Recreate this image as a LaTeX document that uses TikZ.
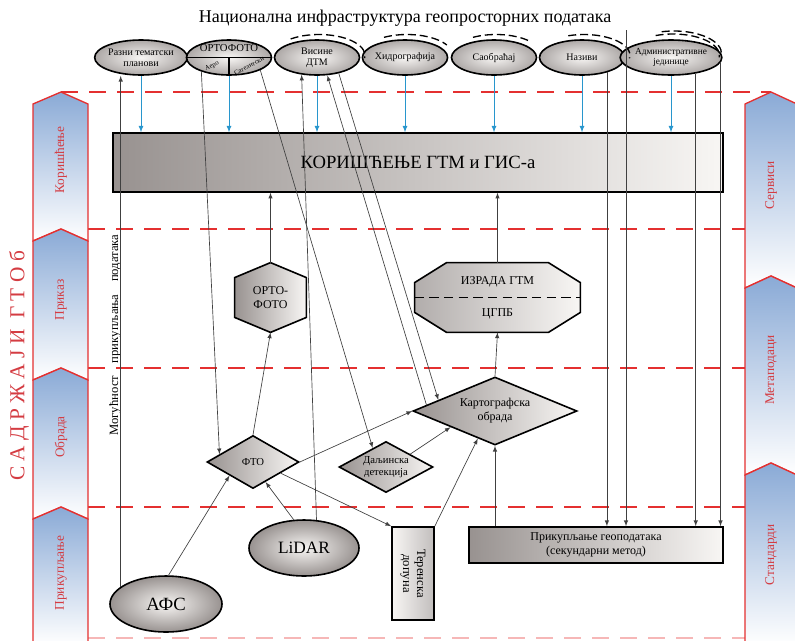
\documentclass[tikz,border=0pt]{standalone}
\usepackage{fontspec}
\setmainfont{Liberation Serif}
\usepackage{tikz}
\usetikzlibrary{arrows,shapes.geometric,calc}
\usepackage{tkz-euclide}
\definecolor{redline}{RGB}{228,48,48}
\definecolor{redtext}{RGB}{212,60,66}
\definecolor{bluearr}{RGB}{40,150,205}
\definecolor{chevblue}{RGB}{138,170,214}
\definecolor{shadedark}{RGB}{152,146,144}
\definecolor{shadelight}{RGB}{248,246,244}

\begin{document}
\begin{tikzpicture}[x=0.75pt,y=-0.75pt,semithick,
  every node/.style={inner sep=0pt,font=\fontsize{9}{10.5}\selectfont},
  arr/.style={-latex,black!75,line width=0.5pt},
  blarr/.style={-latex,bluearr,line width=0.7pt},
  reddash/.style={redline,line width=1.5pt,dash pattern=on 13pt off 8pt},
  band/.style={draw=redline,line width=1pt,top color=chevblue,bottom color=white},
  bandtxt/.style={rotate=90,text=redtext,font=\fontsize{10}{12}\selectfont},
  topell/.style={ellipse,draw,line width=1.2pt,minimum width=63.75pt,minimum height=26.25pt,
    inner color=shadelight,outer color=shadedark!80!white,align=center,font=\fontsize{7.5}{8.5}\selectfont},
  ell/.style={ellipse,draw,line width=1.2pt,inner color=shadelight,outer color=shadedark},
  dia/.style={diamond,draw,line width=1.2pt,left color=shadedark,right color=shadelight,align=center},
  rim/.style={line width=1pt,dash pattern=on 6pt off 3pt},
  poly/.style={draw,line width=1.2pt,left color=shadedark,right color=shadelight}]
\useasboundingbox (0,0) rectangle (795,640);
\tkzDefPoints{141/57.5/E1,229/57.5/E2,317/57.5/E3,405/57.5/E4,494/57.5/E5,582/57.5/E6,671/57.5/E7,626/30/N}
\draw[reddash] (61,92) -- (771,92);
\foreach \y in {229,368,507} \draw[reddash] (88,\y) -- (745,\y);
\draw[reddash,redline!35] (88,638) -- (745,638);
\foreach \t/\b in {92/229,229/368,368/507}
  \draw[band] (33,\t+12) -- (61,\t) -- (88,\t+12) -- (88,\b+12) -- (61,\b) -- (33,\b+12) -- cycle;
\draw[band] (33,519) -- (61,507) -- (88,519) -- (88,645) -- (33,645) -- cycle;
\foreach \t/\b in {92/276,276/463}
  \draw[band] (745,\t+12) -- (771,\t) -- (797,\t+12) -- (797,\b+12) -- (771,\b) -- (745,\b+12) -- cycle;
\draw[band] (745,475) -- (771,463) -- (797,475) -- (797,645) -- (745,645) -- cycle;
\node[bandtxt] (bkor) at (61,160) {Коришћење};
\node[bandtxt] (bpri) at (61,300) {Приказ};
\node[bandtxt] (bobr) at (61,437) {Обрада};
\node[bandtxt] (bprk) at (61,573) {Прикупљање};
\node[bandtxt] (bser) at (771,185) {Сервиси};
\node[bandtxt] (bmet) at (771,370) {Метаподаци};
\node[bandtxt] (bsta) at (771,555) {Стандарди};
\node[rotate=90,text=redtext,font=\fontsize{16}{18}\selectfont] (sadr) at (19,366) {С А Д Р Ж А Ј И\ \ Г Т О б};
\node[rotate=90,font=\fontsize{9.5}{11}\selectfont] (mog) at (115,335) {Могућност\quad прикупљања\quad података};
\node (title) at (405,18) {\fontsize{13.5}{16}\selectfont Национална инфраструктура геопросторних података};
\node[topell] (e1) at (E1) {Разни тематски\\планови};
\node[topell] (e2) at (E2) {};
\node[topell] (e3) at (E3) {Висине\\ДТМ};
\node[topell] (e4) at (E4) {Хидрографија};
\node[topell] (e5) at (E5) {Саобраћај};
\node[topell] (e6) at (E6) {Називи};
\node[topell,font=\fontsize{7}{8}\selectfont] (e7) at (E7) {Административне\\јединице};
\draw[line width=1pt] (e2.west) -- (e2.east) (e2.center) -- (e2.south);
\node[font=\fontsize{8}{9}\selectfont] (ortof) at (229,48.5) {ОРТОФОТО};
\node[rotate=22,font=\fontsize{5}{6}\selectfont] (aero) at (212,66) {Аеро};
\node[rotate=28,font=\fontsize{5}{6}\selectfont] (sat) at (249,66) {Сателитски};
\draw[rim] ([shift={(2,-2)}]e3.center) ++(232:46 and 21) arc (232:367:46 and 21);
\draw[rim] ([shift={(2,-2)}]e4.center) ++(240:46 and 21) arc (240:330:46 and 21);
\draw[rim] ([shift={(2,-2)}]e5.center) ++(240:46 and 21) arc (240:320:46 and 21);
\draw[rim] ([shift={(2,-2)}]e6.center) ++(250:46 and 21) arc (250:368:46 and 21);
\draw[rim] ([shift={(2,-2)}]e7.center) ++(248:46.5 and 21.5) arc (248:365:46.5 and 21.5);
\draw[rim] ([shift={(3,-4)}]e7.center) ++(255:47.5 and 22.5) arc (255:362:47.5 and 22.5);
\node[draw,line width=1pt,minimum width=457.5pt,minimum height=44.25pt,left color=shadedark,right color=shadelight,
  font=\fontsize{14}{16}\selectfont] (box) at (418,162.5) {КОРИШЋЕЊЕ ГТМ и ГИС-а};
\node[minimum width=53.25pt,minimum height=51.75pt] (orto) at (270.5,297.5) {};
\draw[poly] (orto.north) -- ($(orto.north east)+(0,15)$) -- ($(orto.south east)+(0,-15)$) -- (orto.south)
  -- ($(orto.south west)+(0,-15)$) -- ($(orto.north west)+(0,15)$) -- cycle;
\node[align=center] (ortotxt) at (orto) {ОРТО-\\ФОТО};
\node[minimum width=123.75pt,minimum height=51.75pt] (izr) at (497.5,297.5) {};
\draw[poly,left color=shadedark!75!white] ($(izr.north west)+(32,0)$) -- ($(izr.north east)+(-32,0)$) -- ($(izr.north east)+(0,20)$)
  -- ($(izr.south east)+(0,-20)$) -- ($(izr.south east)+(-32,0)$) -- ($(izr.south west)+(32,0)$)
  -- ($(izr.south west)+(0,-20)$) -- ($(izr.north west)+(0,20)$) -- cycle;
\draw[line width=1pt,dash pattern=on 7pt off 4pt] (izr.west) -- (izr.east);
\node (izr1) at (497.5,282) {ИЗРАДА ГТМ};
\node (izr2) at (497.5,314) {ЦГПБ};
\node[dia,shape aspect=1.74,minimum width=69pt,minimum height=39.75pt,font=\fontsize{8}{9}\selectfont] (fto) at (253,462) {ФТО};
\node[dia,shape aspect=1.84,minimum width=70.5pt,minimum height=38.25pt,font=\fontsize{8}{8.5}\selectfont] (dalj) at (386,467) {Даљинска\\детекција};
\node[dia,shape aspect=2.4,minimum width=123pt,minimum height=51pt] (kart) at (495,411) {Картографска\\обрада};
\node[ell,minimum width=84pt,minimum height=42pt,font=\fontsize{14}{16}\selectfont] (afs) at (166,604) {АФС};
\node[ell,minimum width=82.5pt,minimum height=42pt,font=\fontsize{13}{15}\selectfont] (lidar) at (304,548) {LiDAR};
\node[draw,line width=1.2pt,minimum width=31.5pt,minimum height=69.75pt,left color=shadelight,right color=shadedark!60!white] (ter) at (413,573.5) {};
\node[rotate=-90,align=center,font=\fontsize{9.5}{10.5}\selectfont] (tertxt) at (ter) {Теренска\\допуна};
\node[draw,line width=1.2pt,minimum width=190.5pt,minimum height=27pt,left color=shadedark,right color=shadelight,align=center] (geo) at (596,545) {Прикупљање геоподатака\\(секундарни метод)};
\foreach \i in {1,...,7} \draw[blarr] (e\i.south) -- (e\i.south |- box.north);
\draw[arr] (afs.159) -- (afs.159 |- e1.south);
\draw[arr] (lidar.66) -- (e3.228);
\draw[arr] (kart.175) -- (e3.300);
\draw[arr] (e3.324) -- (kart.169);
\draw[arr] (e2.207) -- (fto.167);
\draw[arr] (e2.338) -- (dalj.125);
\draw[arr] (lidar.110) -- (fto.302);
\draw[arr] (afs.85) -- (fto.210);
\draw[arr] (fto.north) -- (orto.south);
\draw[arr] (orto.north) -- (orto.north |- box.south);
\draw[arr] (fto.east) -- (kart.west);
\draw[arr] (fto.338) -- (ter.north west);
\draw[arr] (dalj.28) -- (kart.200);
\draw[arr] (ter.north east) -- (kart.238);
\draw[arr] (geo.north -| kart.south) -- (kart.south);
\draw[arr] (kart.north) -- (izr.south);
\draw[arr] (izr.north) -- (izr.north |- box.south);
\draw[arr] (e6.329) -- (e6.329 |- geo.north);
\draw[arr] (N) -- (N |- geo.north);
\draw[arr] (e7.327) -- (e7.327 |- geo.north);
\draw[arr] (e7.354) -- (e7.354 |- geo.north);
\end{tikzpicture}
\end{document}
